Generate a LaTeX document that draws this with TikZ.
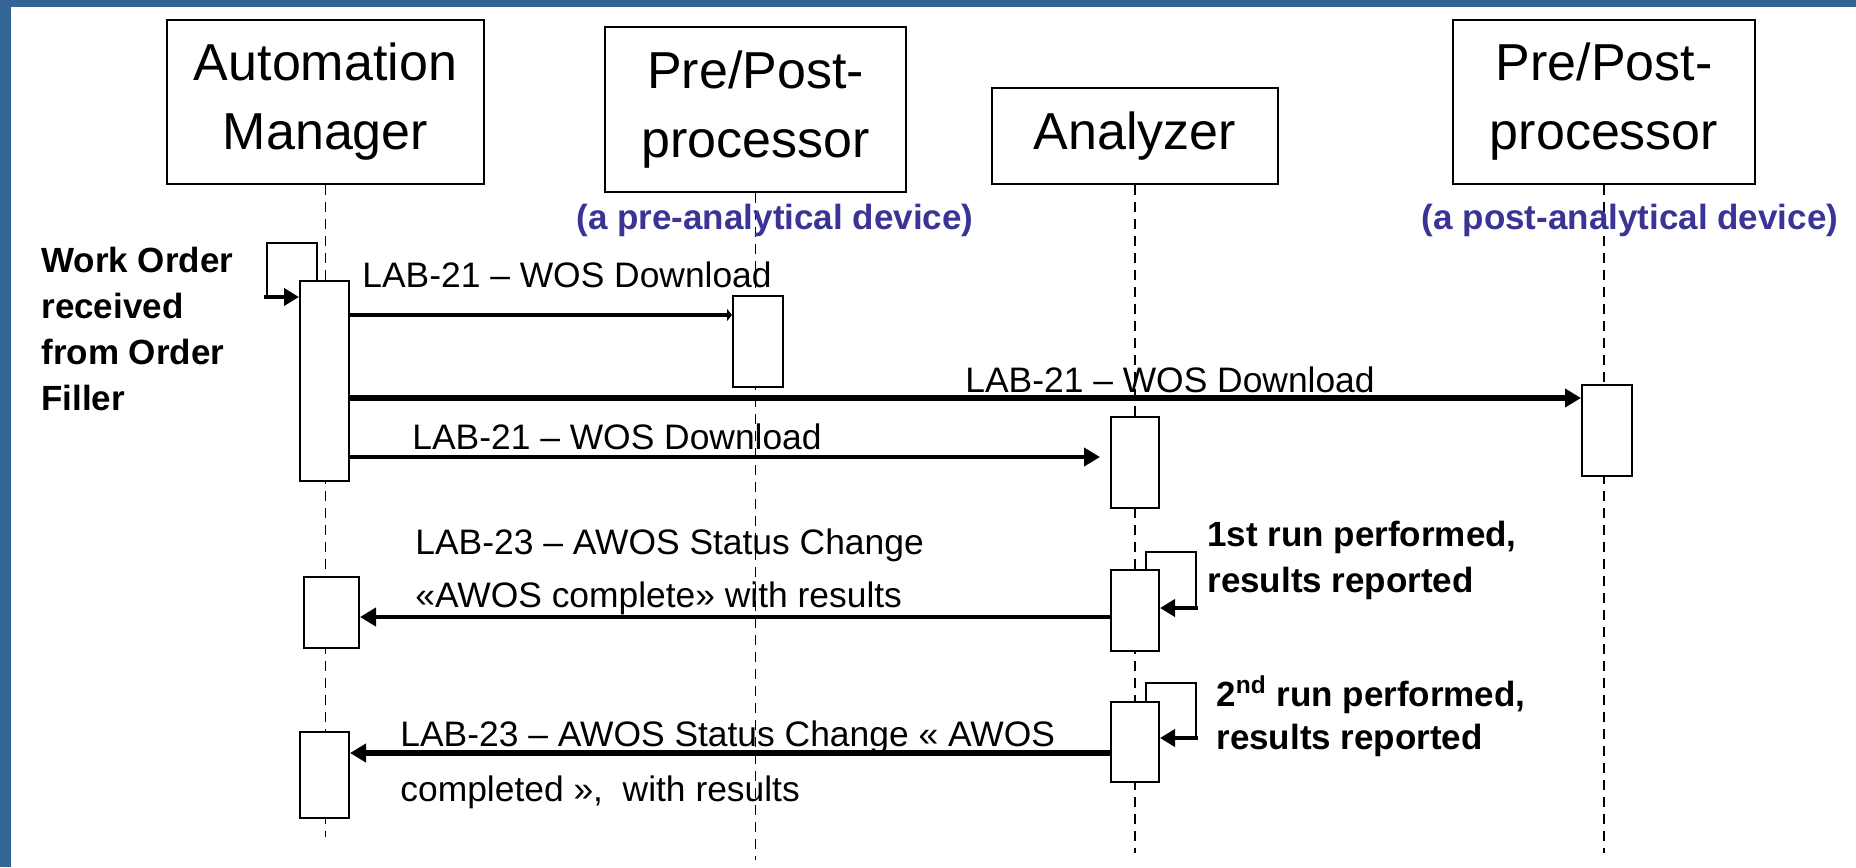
\documentclass[tikz,border=0pt]{standalone}
\usepackage{fontspec}
\setmainfont{Liberation Sans}
\usetikzlibrary{arrows.meta,calc}
\definecolor{frameblue}{RGB}{50,100,150}
\definecolor{devblue}{RGB}{58,52,150}
\begin{document}
\begin{tikzpicture}[x=0.5pt,y=-0.5pt,
  hdr/.style={draw,line width=1pt,fill=white,align=center,inner sep=0pt,
    font=\fontsize{26}{34.5}\selectfont},
  act/.style={draw,line width=1pt,fill=white,inner sep=0pt},
  life/.style={line width=0.8pt,dash pattern=on 5pt off 3.5pt},
  lbl/.style={inner sep=0pt,anchor=west,align=left,font=\fontsize{17.7}{26.5}\selectfont},
  blbl/.style={inner sep=0pt,anchor=west,align=left,font=\bfseries\fontsize{17.5}{23}\selectfont},
  dev/.style={inner sep=0pt,text=devblue,font=\bfseries\fontsize{17.5}{21}\selectfont},
  msg/.style={line width=2pt,-{Triangle[length=8pt,width=9pt]}},
  msgthin/.style={line width=1.8pt,-{Triangle[length=2.5pt,width=6pt]}},
  msgthick/.style={line width=2.6pt,-{Triangle[length=8pt,width=9pt]}},
  loopln/.style={line width=1pt},
  selfmsg/.style={line width=2pt,-{Triangle[length=7.5pt,width=8.5pt]}}]
\useasboundingbox (0,0) rectangle (1856,867);
\fill[white] (0,0) rectangle (1856,867);
\fill[frameblue] (0,0) rectangle (11,867);
\fill[frameblue] (0,0) rectangle (1856,7);

% header boxes
\node[hdr,minimum width=158.5pt,minimum height=82pt] (am) at (325.5,102) {Automation\\Manager};
\node[hdr,minimum width=150.5pt,minimum height=82.5pt] (pp1) at (755.5,109.5) {Pre/Post-\\processor};
\node[hdr,minimum width=143pt,minimum height=48pt] (an) at (1135,136) {Analyzer};
\node[hdr,minimum width=151pt,minimum height=82pt] (pp2) at (1604,102) {Pre/Post-\\processor};

% lifeline ends
\coordinate (amend) at (324,837);
\coordinate (pp1end) at (756,860);
\coordinate (anend) at (1134,853);
\coordinate (pp2end) at (1604,853);
\draw[life] (am.south) -- (am.south |- amend);
\draw[life] (pp1.south) -- (pp1.south |- pp1end);
\draw[life] (an.south) -- (an.south |- anend);
\draw[life] (pp2.south) -- (pp2.south |- pp2end);

% device notes
\node[dev] (pre) at (775,220) {(a pre-analytical device)};
\node[dev] (post) at (1630,220) {(a post-analytical device)};

% activations
\node[act,minimum width=24.5pt,minimum height=100pt] (a1) at (324.5,381) {};
\node[act,minimum width=25pt,minimum height=45.5pt] (p1act) at (758,341.5) {};
\node[act,minimum width=25pt,minimum height=45.5pt] (p2act) at (1607,430.5) {};
\node[act,minimum width=24pt,minimum height=45.5pt] (an1) at (1135,462.5) {};
\node[act,minimum width=27.5pt,minimum height=35.5pt] (am2) at (331.5,612.5) {};
\node[act,minimum width=24pt,minimum height=40.5pt] (an2) at (1135,610.5) {};
\node[act,minimum width=24.5pt,minimum height=43pt] (am3) at (324.5,775) {};
\node[act,minimum width=24pt,minimum height=40pt] (an3) at (1135,742) {};

% work order self message
\node[blbl] (wo) at (41,329) {Work Order\\received\\from Order\\Filler};
\coordinate (amTR) at (317,243);
\coordinate (amTL) at (267,243);
\coordinate (amBL) at (264,297);
\draw[loopln] (a1.north -| amTR) -- (amTR) -- (amTL) -- (amTL |- amBL);
\draw[selfmsg] (amBL) -- (a1.west |- amBL);

% messages
\coordinate (y1) at (0,315);
\coordinate (y2) at (0,398);
\coordinate (y3) at (0,457);
\coordinate (y4) at (0,617);
\coordinate (y5) at (0,753);
\coordinate (t3) at (1100,457);
\draw[msgthin] (a1.east |- y1) -- (p1act.west |- y1);
\draw[msgthick] (a1.east |- y2) -- (p2act.west |- y2);
\draw[msg] (a1.east |- y3) -- (t3);
\draw[msg] (an2.west |- y4) -- (am2.east |- y4);
\draw[msgthick] (an3.west |- y5) -- (am3.east |- y5);

\node[lbl] (L1) at (362,275) {LAB-21 – WOS Download};
\node[lbl] (L2) at (965,380) {LAB-21 – WOS Download};
\node[lbl] (L3) at (412,437) {LAB-21 – WOS Download};
\node[lbl] (L4) at (415,571.5) {LAB-23 – AWOS Status Change\\«AWOS complete» with results};
\node[lbl,font=\fontsize{17.7}{27.5}\selectfont] (L5) at (400,764.5) {LAB-23 – AWOS Status Change « AWOS\\completed »,~ with results};

% analyzer self loops
\coordinate (l2a) at (1146,552);
\coordinate (l2b) at (1196,552);
\coordinate (l2c) at (1196,608);
\draw[loopln] (an2.north -| l2a) -- (l2a) -- (l2b) -- (l2c);
\draw[selfmsg] ([xshift=1pt]l2c) -- (an2.east |- l2c);
\node[blbl] (r1) at (1207,560) {1st run performed,\\results reported};

\coordinate (l3a) at (1146,683);
\coordinate (l3b) at (1196,683);
\coordinate (l3c) at (1196,738);
\draw[loopln] (an3.north -| l3a) -- (l3a) -- (l3b) -- (l3c);
\draw[selfmsg] ([xshift=1pt]l3c) -- (an3.east |- l3c);
\node[blbl,font=\bfseries\fontsize{17.5}{21.5}\selectfont] (r2) at (1216,716.5) {2\textsuperscript{nd} run performed,\\results reported};
\end{tikzpicture}
\end{document}
